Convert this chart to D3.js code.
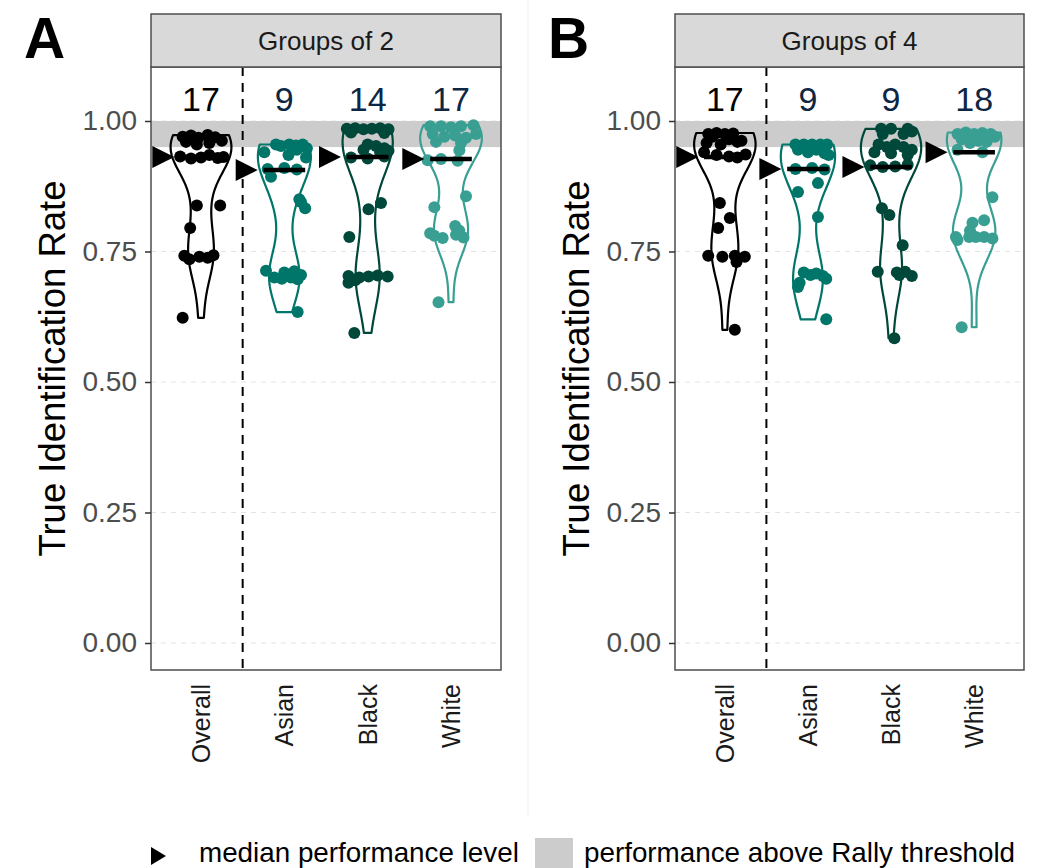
<!DOCTYPE html>
<html>
<head>
<meta charset="utf-8">
<script src="https://cdn.jsdelivr.net/npm/d3@7"></script>
<style>
  body { margin: 0; background: #fff; }
  text { font-family: "Liberation Sans", Arial, sans-serif; }
</style>
</head>
<body>
<svg id="chart" width="1038" height="868"></svg>
<script>
// categories + per-panel values
const categories = ["Overall", "Asian", "Black", "White"];
const panelTitles = ["Groups of 2", "Groups of 4"];
const panelLetters = ["A", "B"];
const countsG2 = [17, 9, 14, 17];
const countsG4 = [17, 9, 9, 18];
const mediansG2 = [0.931, 0.906, 0.931, 0.927];
const mediansG4 = [0.931, 0.908, 0.912, 0.940];
const yTicks = [0, 0.25, 0.5, 0.75, 1];
const threshold = [0.95, 1.0];

// points: [value, horizontal jitter in category units]
const g2Overall = [[0.970,-0.22],[0.972,-0.12],[0.968,-0.03],[0.973,0.08],[0.969,0.17],[0.960,-0.18],[0.955,-0.05],[0.958,0.10],[0.962,0.25],
  [0.932,-0.25],[0.928,-0.12],[0.930,0.00],[0.935,0.10],[0.929,0.20],[0.931,0.27],
  [0.838,-0.05],[0.838,0.23],[0.795,-0.13],
  [0.742,-0.20],[0.735,-0.14],[0.740,-0.02],[0.738,0.08],[0.743,0.15],[0.623,-0.22]];
const g2Asian = [[0.955,-0.10],[0.952,-0.04],[0.955,0.06],[0.953,0.14],[0.955,0.22],[0.948,0.27],[0.940,-0.24],[0.945,0.15],[0.935,0.05],[0.930,0.26],[0.950,0.10],
  [0.908,-0.20],[0.910,0.00],[0.907,0.15],[0.893,-0.16],
  [0.850,0.18],[0.845,0.20],[0.833,0.25],
  [0.713,-0.22],[0.710,0.00],[0.712,0.12],[0.700,-0.12],[0.698,-0.03],[0.700,0.08],[0.697,0.16],[0.705,0.20],[0.634,0.16]];
const g2Black = [[0.985,-0.25],[0.986,-0.15],[0.984,-0.05],[0.985,0.05],[0.986,0.15],[0.984,0.25],[0.978,-0.20],[0.977,0.20],
  [0.955,0.00],[0.952,0.10],[0.948,0.20],[0.945,-0.05],[0.940,0.15],[0.943,0.25],
  [0.930,-0.20],[0.928,0.00],[0.932,0.20],
  [0.843,0.16],[0.831,0.01],[0.778,-0.22],
  [0.703,-0.23],[0.700,-0.10],[0.702,0.01],[0.704,0.12],[0.702,0.24],[0.690,-0.23],[0.695,-0.15],[0.594,-0.16]];
const g2White = [[0.990,-0.25],[0.990,-0.12],[0.988,0.00],[0.990,0.12],[0.992,0.27],[0.975,-0.22],[0.970,-0.08],[0.972,0.05],[0.968,0.18],[0.960,-0.18],[0.958,0.12],[0.975,0.30],
  [0.944,0.10],[0.925,-0.28],[0.927,-0.12],[0.924,0.08],
  [0.856,0.18],[0.835,-0.20],[0.799,0.05],
  [0.785,-0.25],[0.780,-0.20],[0.776,-0.10],[0.782,0.06],[0.777,0.15],[0.790,0.10],[0.653,-0.15]];
const g4Overall = [[0.975,-0.20],[0.977,-0.10],[0.975,0.00],[0.976,0.10],[0.970,-0.15],[0.965,0.05],[0.962,0.20],[0.958,-0.22],[0.955,-0.05],[0.960,0.15],
  [0.940,-0.25],[0.935,-0.10],[0.932,0.05],[0.930,0.15],[0.936,0.25],
  [0.843,-0.06],[0.814,0.06],[0.795,-0.08],
  [0.742,-0.20],[0.740,-0.03],[0.742,0.12],[0.740,0.24],[0.730,0.14],[0.600,0.12]];
const g4Asian = [[0.955,-0.15],[0.955,-0.05],[0.955,0.05],[0.955,0.15],[0.955,0.23],[0.945,-0.12],[0.940,0.00],[0.938,0.20],[0.935,0.25],[0.945,0.10],
  [0.908,-0.15],[0.910,0.05],[0.907,0.20],
  [0.881,0.12],[0.864,-0.12],[0.816,0.12],
  [0.710,-0.05],[0.705,0.03],[0.708,0.10],[0.703,0.18],[0.698,0.22],[0.690,-0.10],[0.682,-0.12],[0.620,0.22]];
const g4Black = [[0.985,-0.12],[0.985,0.00],[0.985,0.20],[0.980,0.25],[0.975,-0.10],[0.975,0.15],
  [0.955,-0.15],[0.950,-0.05],[0.955,0.05],[0.950,0.15],[0.945,0.25],[0.940,-0.20],[0.938,0.00],[0.935,0.20],
  [0.915,-0.25],[0.912,-0.10],[0.913,0.05],[0.916,0.20],
  [0.833,-0.11],[0.820,-0.02],[0.762,0.14],
  [0.711,-0.16],[0.710,0.07],[0.711,0.17],[0.703,0.25],[0.705,0.10],[0.584,0.04]];
const g4White = [[0.975,-0.20],[0.978,-0.10],[0.975,0.00],[0.977,0.10],[0.975,0.20],[0.965,-0.15],[0.962,0.05],[0.960,0.15],[0.958,-0.05],[0.970,0.25],
  [0.945,-0.20],[0.940,0.10],[0.854,0.22],
  [0.810,0.12],[0.805,-0.02],[0.790,-0.05],
  [0.778,-0.22],[0.778,-0.06],[0.778,0.02],[0.778,0.12],[0.775,0.22],[0.772,-0.20],[0.605,-0.15]];

const colors = ["#000000", "#00766a", "#00483a", "#3a9f93"];
const countColors = ["#000000", "#0d2644", "#0d2644", "#0d2644"];

const panels = [
  { title: panelTitles[0], letter: panelLetters[0], counts: countsG2, medians: mediansG2,
    groups: [g2Overall, g2Asian, g2Black, g2White], x0: 151, x1: 501 },
  { title: panelTitles[1], letter: panelLetters[1], counts: countsG4, medians: mediansG4,
    groups: [g4Overall, g4Asian, g4Black, g4White], x0: 675, x1: 1024 }
];

const svg = d3.select("#chart");
const panelTop = 67, panelBottom = 670, stripTop = 14;

// y scale shared
const y = d3.scaleLinear().domain([0, 1]).range([643, 121]);

// kernel density (gaussian, bw.nrd0 like R)
function kde(values) {
  const v = values.slice().sort(d3.ascending);
  const n = v.length;
  const sd = d3.deviation(v);
  const iqr = d3.quantile(v, 0.75) - d3.quantile(v, 0.25);
  const bw = 0.9 * Math.min(sd, iqr / 1.34) * Math.pow(n, -0.2);
  const lo = v[0], hi = v[n - 1];
  const grid = d3.range(0, 101).map(i => lo + (hi - lo) * i / 100);
  return grid.map(g => ({
    v: g,
    d: d3.sum(v, x => Math.exp(-0.5 * ((g - x) / bw) ** 2)) / (n * bw * Math.sqrt(2 * Math.PI))
  }));
}

// faint separator between panels
svg.append("line")
  .attr("x1", 528).attr("x2", 528).attr("y1", 0).attr("y2", 815)
  .attr("stroke", "#f0f0f0").attr("stroke-width", 1);

panels.forEach(p => {
  const x = d3.scaleLinear().domain([-0.6, 3.6]).range([p.x0, p.x1]);
  const g = svg.append("g");

  // gridlines
  g.selectAll(".grid").data(yTicks).enter().append("line")
    .attr("x1", p.x0).attr("x2", p.x1)
    .attr("y1", d => y(d)).attr("y2", d => y(d))
    .attr("stroke", "#e3e3e3").attr("stroke-width", 1)
    .attr("stroke-dasharray", "5,5");

  // threshold band
  g.append("rect")
    .attr("x", p.x0).attr("width", p.x1 - p.x0)
    .attr("y", y(threshold[1])).attr("height", y(threshold[0]) - y(threshold[1]))
    .attr("fill", "#cccccc");

  // dashed divider after Overall
  g.append("line")
    .attr("x1", x(0.5)).attr("x2", x(0.5))
    .attr("y1", panelTop).attr("y2", panelBottom)
    .attr("stroke", "#000").attr("stroke-width", 2)
    .attr("stroke-dasharray", "9,7");

  // violins, scaled by area across the panel
  const dens = p.groups.map(pts => kde(pts.map(d => d[0])));
  const maxD = d3.max(dens, ds => d3.max(ds, d => d.d));
  const halfW = 0.37;
  dens.forEach((ds, i) => {
    const area = d3.area()
      .y(d => y(d.v))
      .x0(d => x(i - halfW * d.d / maxD))
      .x1(d => x(i + halfW * d.d / maxD));
    g.append("path")
      .attr("d", area(ds))
      .attr("fill", "none")
      .attr("stroke", colors[i])
      .attr("stroke-width", 2.2)
      .attr("stroke-linejoin", "round");
  });

  // jittered points
  p.groups.forEach((pts, i) => {
    g.selectAll(null).data(pts).enter().append("circle")
      .attr("cx", d => x(i + d[1]))
      .attr("cy", d => y(d[0]))
      .attr("r", 6)
      .attr("fill", colors[i]);
  });

  // median bars
  g.selectAll(null).data(p.medians).enter().append("line")
    .attr("x1", (d, i) => x(i - 0.25)).attr("x2", (d, i) => x(i + 0.25))
    .attr("y1", d => y(d)).attr("y2", d => y(d))
    .attr("stroke", "#000").attr("stroke-width", 4.5);

  // median triangles
  g.selectAll(null).data(p.medians).enter().append("path")
    .attr("d", (d, i) => {
      const tip = x(i - 0.32), yy = y(d);
      return `M${tip},${yy} L${tip - 22},${yy - 11} L${tip - 22},${yy + 11} Z`;
    })
    .attr("fill", "#000");

  // counts above
  g.selectAll(null).data(p.counts).enter().append("text")
    .attr("x", (d, i) => x(i))
    .attr("y", y(1.042))
    .attr("dy", "0.36em")
    .attr("text-anchor", "middle")
    .attr("font-size", 34)
    .attr("fill", (d, i) => countColors[i])
    .text(d => d);

  // panel border
  g.append("rect")
    .attr("x", p.x0).attr("y", panelTop)
    .attr("width", p.x1 - p.x0).attr("height", panelBottom - panelTop)
    .attr("fill", "none").attr("stroke", "#4d4d4d").attr("stroke-width", 1.5);

  // strip
  g.append("rect")
    .attr("x", p.x0).attr("y", stripTop)
    .attr("width", p.x1 - p.x0).attr("height", panelTop - stripTop)
    .attr("fill", "#d9d9d9").attr("stroke", "#4d4d4d").attr("stroke-width", 1.5);
  g.append("text")
    .attr("x", (p.x0 + p.x1) / 2).attr("y", (panelTop + stripTop) / 2)
    .attr("dy", "0.36em").attr("text-anchor", "middle")
    .attr("font-size", 26).attr("fill", "#1a1a1a")
    .text(p.title);

  // y axis
  const yAxis = d3.axisLeft(y).tickValues(yTicks).tickFormat(d3.format(".2f"))
    .tickSize(6).tickPadding(8);
  const ya = g.append("g").attr("transform", `translate(${p.x0},0)`).call(yAxis);
  ya.select(".domain").remove();
  ya.selectAll("line").attr("stroke", "#333").attr("stroke-width", 1.5);
  ya.selectAll("text").attr("font-size", 28).attr("fill", "#4d4d4d")
    .attr("font-family", "Liberation Sans, Arial, sans-serif");

  // x labels, rotated
  g.selectAll(null).data(categories).enter().append("text")
    .attr("transform", (d, i) => `translate(${x(i)},${panelBottom + 14}) rotate(-90)`)
    .attr("dy", "0.36em")
    .attr("text-anchor", "end")
    .attr("font-size", 25).attr("fill", "#1a1a1a")
    .text(d => d);

  // y title
  g.append("text")
    .attr("transform", `translate(${p.x0 - 99},${(panelTop + panelBottom) / 2}) rotate(-90)`)
    .attr("text-anchor", "middle")
    .attr("dy", "0.36em")
    .attr("font-size", 36.5).attr("fill", "#000")
    .text("True Identification Rate");

  // panel letter
  g.append("text")
    .attr("x", p.x0 - 127).attr("y", 58)
    .attr("font-size", 57).attr("font-weight", "bold").attr("fill", "#000")
    .text(p.letter);
});

// legend
const lg = svg.append("g");
lg.append("path").attr("d", "M151,847 L166,856 L151,865 Z").attr("fill", "#000");
lg.append("text").attr("x", 199).attr("y", 862)
  .attr("font-size", 27.8).attr("fill", "#000").text("median performance level");
lg.append("rect").attr("x", 535).attr("y", 838).attr("width", 38).attr("height", 30).attr("fill", "#cccccc");
lg.append("text").attr("x", 584).attr("y", 862)
  .attr("font-size", 27.8).attr("fill", "#000").text("performance above Rally threshold");
</script>
</body>
</html>
